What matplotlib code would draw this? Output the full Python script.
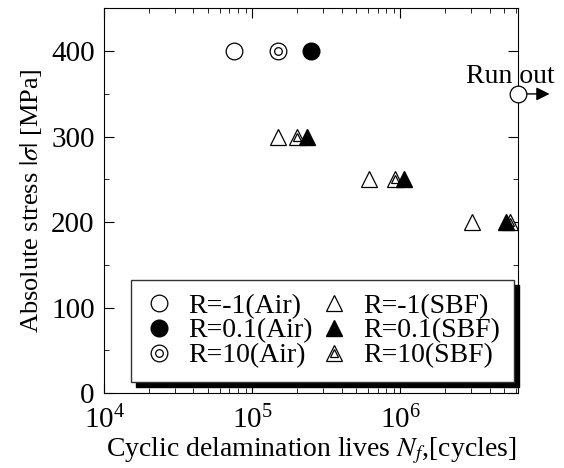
import matplotlib.pyplot as plt
from matplotlib.ticker import MultipleLocator, LogLocator

plt.rcParams['font.family'] = ['Liberation Serif', 'DejaVu Serif']
plt.rcParams['mathtext.fontset'] = 'stix'

# stress levels [MPa] and lives [cycles]
air_m1_n = [7.5e4]
air_m1_s = [400]
air_01_n = [2.5e5]
air_01_s = [400]
air_10_n = [1.5e5]
air_10_s = [400]
runout_n = [6.2e6]
runout_s = [350]

sbf_m1_n = [1.5e5, 6.1e5, 3.05e6]
sbf_m1_s = [300, 250, 200]
sbf_01_n = [2.35e5, 1.06e6, 5.15e6]
sbf_01_s = [300, 250, 200]
sbf_10_n = [2.0e5, 9.2e5, 5.5e6]
sbf_10_s = [300, 250, 200]

fig = plt.figure(figsize=(5.64, 4.68), dpi=100)
ax = fig.add_axes([0.185, 0.160, 0.733, 0.822])

ms = 12
kw_open = dict(ls='none', mfc='white', mec='black', mew=0.9, ms=ms)
kw_in = dict(ls='none', mfc='white', mec='black', mew=0.9, ms=5.5)

h1, = ax.plot(air_m1_n, air_m1_s, 'o', **kw_open)
h2, = ax.plot(air_01_n, air_01_s, 'o', ls='none', color='black', ms=ms)
h3a, = ax.plot(air_10_n, air_10_s, 'o', **kw_open)
h3b, = ax.plot(air_10_n, air_10_s, 'o', **kw_in)
h4, = ax.plot(sbf_m1_n, sbf_m1_s, '^', **kw_open)
h6a, = ax.plot(sbf_10_n, sbf_10_s, '^', **kw_open)
h6b, = ax.plot(sbf_10_n, sbf_10_s, '^', **kw_in)
h5, = ax.plot(sbf_01_n, sbf_01_s, '^', ls='none', color='black', ms=ms)

# run out
ax.annotate('', xy=(1.077, runout_s[0]), xycoords=('axes fraction', 'data'),
            xytext=(runout_n[0], runout_s[0]), textcoords='data',
            arrowprops=dict(arrowstyle='-|>', color='black', lw=1,
                            mutation_scale=20, shrinkA=0, shrinkB=0),
            annotation_clip=False)
ax.plot(runout_n, runout_s, 'o', clip_on=False, zorder=5, **kw_open)
ax.text(0.981, 363, 'Run out', transform=ax.get_yaxis_transform(), ha='center',
        va='baseline', fontsize=20, clip_on=False)

ax.set_xscale('log')
ax.set_xlim(1e4, 6.2e6)
ax.set_ylim(0, 450)
ax.yaxis.set_major_locator(MultipleLocator(100))
ax.yaxis.set_minor_locator(MultipleLocator(50))
ax.xaxis.set_major_locator(LogLocator(base=10, numticks=10))
ax.xaxis.set_minor_locator(LogLocator(base=10, subs=range(2, 10), numticks=20))
ax.tick_params(which='both', direction='in', top=True, right=True, labelsize=21)
ax.tick_params(which='major', length=7, pad=7)
ax.tick_params(axis='x', which='major', pad=9)
ax.tick_params(which='minor', length=3.5)

ax.set_xlabel(r'Cyclic delamination lives $N_f$,[cycles]', fontsize=20, labelpad=1)
ax.set_ylabel(r'Absolute stress $|\sigma|$ [MPa]', fontsize=19, labelpad=5)

handles = [h1, h2, (h3a, h3b), h4, h5, (h6a, h6b)]
labels = ['R=-1(Air)', 'R=0.1(Air)', 'R=10(Air)',
          'R=-1(SBF)', 'R=0.1(SBF)', 'R=10(SBF)']
leg = ax.legend(handles, labels, ncol=2, loc='lower left', mode='expand',
                bbox_to_anchor=(0.064, 0.0286, 0.926, 0.26), fontsize=20,
                frameon=True, fancybox=False, edgecolor='#333333', framealpha=1,
                shadow={'color': 'black', 'alpha': 1, 'ox': 3.6, 'oy': -3.6},
                handlelength=1.0, handletextpad=0.55, columnspacing=0.6,
                labelspacing=-0.03, borderpad=0.5, borderaxespad=0)
leg.get_frame().set_linewidth(1.0)

fig.savefig('out.png', dpi=100)
